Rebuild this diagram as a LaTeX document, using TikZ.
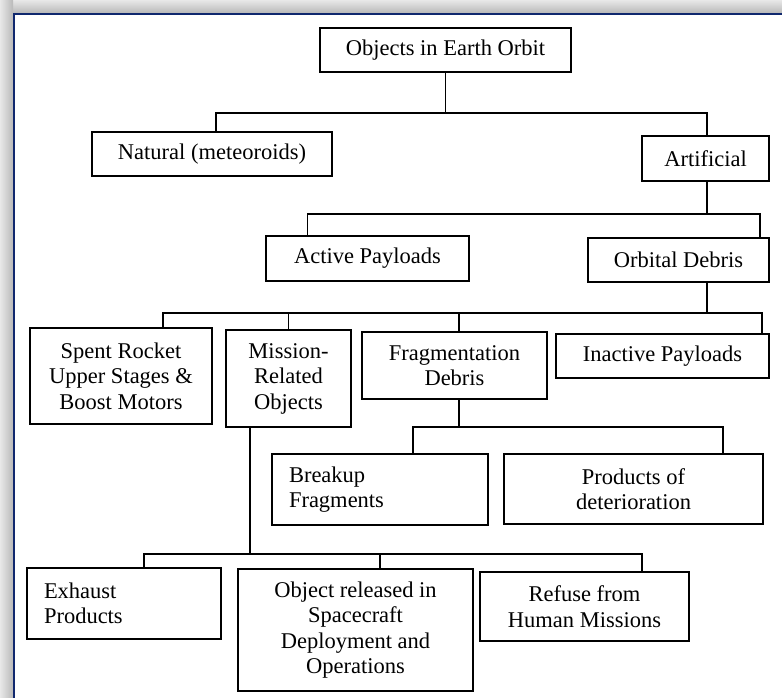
\documentclass[tikz,border=0pt]{standalone}
\usepackage{fontspec}
\setmainfont{Liberation Serif}
\usetikzlibrary{positioning}

\definecolor{azulmarco}{RGB}{16,40,110}

\begin{document}
\begin{tikzpicture}[
    x=1pt, y=-1pt,
    every node/.style={align=center, font=\fontsize{22.5}{25.5}\selectfont},
    caja/.style={draw=black, line width=1.5pt, fill=white, inner sep=0pt},
    caja izquierda/.style={caja, align=left, inner xsep=17pt}, % texto alineado a la izquierda
    linea arbol/.style={draw=black, line width=1.5pt}
]
\useasboundingbox (0,0) rectangle (782,698);

% ---- Marco: sombra gris y borde azul ----
\shade[top color=gray!18, bottom color=gray!55] (0,0) rectangle (782,13);
\shade[left color=gray!18, right color=gray!55] (0,0) rectangle (13,698);
\draw[azulmarco, line width=2pt] (782,14) -- (14,14) -- (14,698);

% ---- 1. Raiz ----
\node[caja, minimum width=251pt, minimum height=44pt] (orbita) at (445.5,50) {Objects in Earth Orbit};

% ---- 2. Natural / Artificial ----
\node[caja, minimum width=240pt, minimum height=44pt] (natural) at (212,154) {Natural (meteoroids)};
\node[caja, minimum width=127pt, minimum height=45pt] (artificial) at (705.5,158.5) {Artificial};

% ---- 3. Cargas activas / basura orbital ----
\node[caja, minimum width=203pt, minimum height=45pt] (activas) at (367.5,258.5) {Active Payloads};
\node[caja, minimum width=181pt, minimum height=44pt] (basura) at (678.5,260) {Orbital Debris};

% ---- 4. Tipos de basura ----
\node[caja, minimum width=182pt, minimum height=96pt] (cohetes) at (121,376) {Spent Rocket\\Upper Stages \&\\Boost Motors};
\node[caja, minimum width=125pt, minimum height=97pt] (mision) at (288.5,378.5) {Mission-\\Related\\Objects};
\node[caja, minimum width=185pt, minimum height=67pt] (fragmentacion) at (454.5,365.5) {Fragmentation\\Debris};
\node[caja, minimum width=213pt, minimum height=44pt] (inactivas) at (662.5,356) {Inactive Payloads};

% ---- 5. Fragmentos ----
\node[caja izquierda, text width=182pt, minimum height=71pt] (rotura) at (380,489.5) {Breakup\\Fragments};
\node[caja, minimum width=259pt, minimum height=70pt] (deterioro) at (633.5,489) {Products of\\deterioration};

% ---- 6. Objetos de mision ----
\node[caja izquierda, text width=160pt, minimum height=71pt] (escape) at (124,603.5) {Exhaust\\Products};
\node[caja, minimum width=235pt, minimum height=122pt] (liberados) at (355.5,630) {Object released in\\Spacecraft\\Deployment and\\Operations};
\node[caja, minimum width=209pt, minimum height=69pt] (residuos) at (584.5,606.5) {Refuse from\\Human Missions};

% ---- Niveles de las ramas ----
\coordinate (rama1) at (0,113);
\coordinate (rama2) at (0,214);
\coordinate (rama3) at (0,313);
\coordinate (rama4) at (0,427);
\coordinate (rama5) at (0,554);

% ---- Conectores ----
\draw[linea arbol] (orbita.south) -- (orbita.south |- rama1);
\draw[linea arbol] ([xshift=4pt]natural.north) |- ([xshift=1.5pt]artificial.north |- rama1) -- ([xshift=1.5pt]artificial.north);

\draw[linea arbol] ([xshift=1.5pt]artificial.south) -- ([xshift=1.5pt]artificial.south |- rama2);
\draw[linea arbol] ([xshift=42pt]activas.north west) |- ([xshift=-10pt]basura.north east |- rama2) -- ([xshift=-10pt]basura.north east);

\draw[linea arbol] ([xshift=28.5pt]basura.south) -- ([xshift=28.5pt]basura.south |- rama3);
\draw[linea arbol] ([xshift=42pt]cohetes.north) |- ([xshift=-8pt]inactivas.north east |- rama3) -- ([xshift=-8pt]inactivas.north east);
\draw[linea arbol] (mision.north) -- (mision.north |- rama3);
\draw[linea arbol] ([xshift=4.5pt]fragmentacion.north) -- ([xshift=4.5pt]fragmentacion.north |- rama3);

\draw[linea arbol] ([xshift=4.5pt]fragmentacion.south) -- ([xshift=4.5pt]fragmentacion.south |- rama4);
\draw[linea arbol] ([xshift=33pt]rotura.north) |- ([xshift=89.5pt]deterioro.north |- rama4) -- ([xshift=89.5pt]deterioro.north);

\draw[linea arbol] ([xshift=-38.5pt]mision.south) -- ([xshift=-38.5pt]mision.south |- rama5);
\draw[linea arbol] ([xshift=20pt]escape.north) |- ([xshift=57.5pt]residuos.north |- rama5) -- ([xshift=57.5pt]residuos.north);
\draw[linea arbol] ([xshift=24.5pt]liberados.north) -- ([xshift=24.5pt]liberados.north |- rama5);

\end{tikzpicture}
\end{document}
